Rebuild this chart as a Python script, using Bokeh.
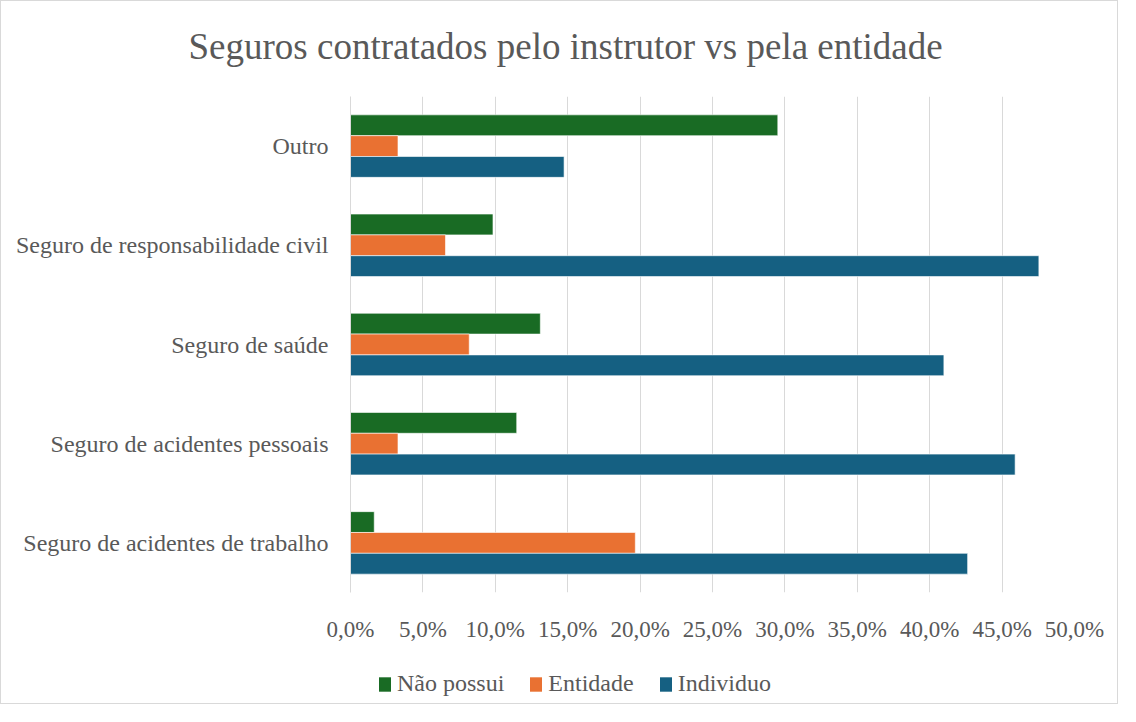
from bokeh.plotting import figure
from bokeh.layouts import column
from bokeh.models import (ColumnDataSource, FactorRange, Range1d, FixedTicker,
                          Legend, LegendItem, Title)
from bokeh.transform import dodge
from bokeh.embed import file_html
from bokeh.resources import INLINE

categories = ["Seguro de acidentes de trabalho", "Seguro de acidentes pessoais",
              "Seguro de saúde", "Seguro de responsabilidade civil", "Outro"]
nao_possui = [1.64, 11.48, 13.11, 9.84, 29.51]
entidade = [19.67, 3.28, 8.20, 6.56, 3.28]
individuo = [42.62, 45.90, 40.98, 47.54, 14.75]
series_names = ["Não possui", "Entidade", "Individuo"]
series_colors = ["#196B24", "#E97132", "#156082"]
x_ticks = [0, 5, 10, 15, 20, 25, 30, 35, 40, 45, 50]
x_tick_labels = ["0,0%", "5,0%", "10,0%", "15,0%", "20,0%", "25,0%",
                 "30,0%", "35,0%", "40,0%", "45,0%", "50,0%"]
title_text = "Seguros contratados pelo instrutor vs pela entidade"

FONT = "Liberation Serif"
TXT = "#595959"
GRID = "#D9D9D9"
W = 1118
H1 = 655
H2 = 49

src = ColumnDataSource(dict(cat=categories, nao=nao_possui, ent=entidade, ind=individuo))

# ---------------- main chart ----------------
p = figure(width=W, height=H1, output_backend="svg", toolbar_location=None,
           y_range=FactorRange(*categories, range_padding=0),
           x_range=Range1d(0, 50),
           min_border_left=349, min_border_right=45, min_border_top=95,
           min_border_bottom=H1 - 591)
p.styles = {"border-top": "1px solid #D9D9D9", "border-left": "1px solid #D9D9D9",
            "border-right": "1px solid #D9D9D9"}
p.outline_line_color = None
p.background_fill_color = "white"
p.border_fill_color = "white"

bh = 0.21
p.hbar(y=dodge("cat", bh, range=p.y_range), left=0, right="nao", height=bh,
       source=src, fill_color=series_colors[0], line_color="white", line_width=0.6)
p.hbar(y=dodge("cat", 0, range=p.y_range), left=0, right="ent", height=bh,
       source=src, fill_color=series_colors[1], line_color="white", line_width=0.6)
p.hbar(y=dodge("cat", -bh, range=p.y_range), left=0, right="ind", height=bh,
       source=src, fill_color=series_colors[2], line_color="white", line_width=0.6)

p.xaxis.ticker = FixedTicker(ticks=x_ticks)
p.xaxis.major_label_overrides = {t: l for t, l in zip(x_ticks, x_tick_labels)}
p.xaxis.major_label_text_font = FONT
p.xaxis.major_label_text_font_size = "23px"
p.xaxis.major_label_text_color = TXT
p.xaxis.major_label_standoff = 18
p.xaxis.axis_line_color = None
p.xaxis.major_tick_line_color = None
p.xaxis.minor_tick_line_color = None

p.yaxis.major_label_text_font = FONT
p.yaxis.major_label_text_font_size = "24px"
p.yaxis.major_label_text_color = TXT
p.yaxis.major_label_standoff = 16
p.yaxis.axis_line_color = GRID
p.yaxis.axis_line_width = 1
p.yaxis.major_tick_line_color = None
p.yaxis.minor_tick_line_color = None

p.xgrid.grid_line_color = GRID
p.xgrid.grid_line_width = 1
p.ygrid.grid_line_color = None

spacer = Title(text=" ", text_font_size="1px", standoff=27)
p.add_layout(spacer, "above")
t = Title(text=title_text, align="left", text_font=FONT, text_font_size="37px",
          text_color=TXT, text_font_style="normal", standoff=0, offset=-162)
p.add_layout(t, "above")

# ---------------- legend strip ----------------
pl = figure(width=W, height=H2, output_backend="svg", toolbar_location=None,
            x_range=Range1d(0, 1), y_range=Range1d(0, 1),
            x_axis_location=None, y_axis_location=None, min_border=0)
pl.styles = {"border-bottom": "1px solid #D9D9D9", "border-left": "1px solid #D9D9D9",
             "border-right": "1px solid #D9D9D9"}
pl.outline_line_color = None
pl.grid.visible = False
pl.background_fill_color = "white"
pl.border_fill_color = "white"

# legend swatch proxies: zero-size bars, nothing visible is drawn by them
items = []
for name, col in zip(series_names, series_colors):
    r = pl.hbar(y=[0.5], left=[0], right=[0], height=0, fill_color=col, line_color=None)
    items.append(LegendItem(label=name, renderers=[r]))

legend = Legend(items=items, orientation="horizontal", location=(27, 7),
                label_text_font=FONT, label_text_font_size="24px",
                label_text_color=TXT, glyph_width=15, glyph_height=18,
                label_standoff=5, spacing=24, padding=0, margin=0,
                border_line_color=None, background_fill_alpha=0)
pl.add_layout(legend, "center")

layout = column(p, pl, spacing=0)
open("out.html", "w").write(file_html(layout, INLINE))
